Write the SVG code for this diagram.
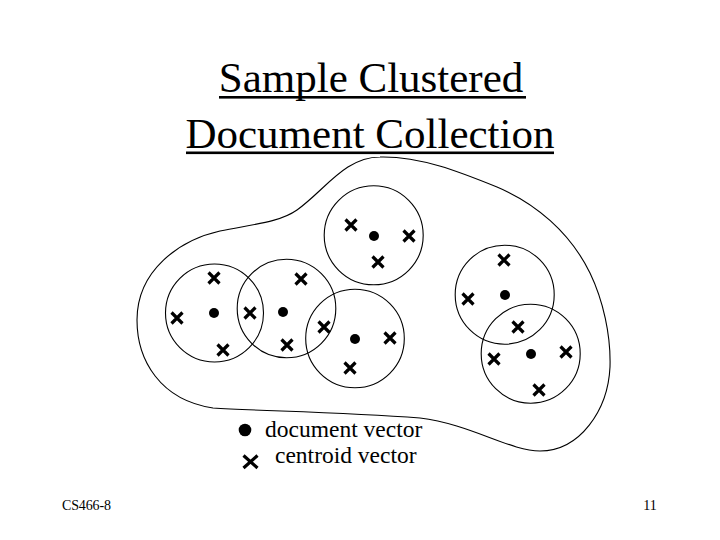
<svg xmlns="http://www.w3.org/2000/svg" xmlns:xlink="http://www.w3.org/1999/xlink" width="720" height="540" viewBox="0 0 720 540">
<style>
.t{font-family:"Liberation Serif","Times New Roman",serif;fill:#000}
.ring{fill:none;stroke:#000;stroke-width:1.1}
.doc{fill:#000}
.cx{stroke:#000;stroke-width:3.2;fill:none;stroke-linecap:butt}
</style>
<defs>
<path id="x" class="cx" d="M-5.5,-5.5L5.5,5.5M5.5,-5.5L-5.5,5.5"/>
</defs>
<rect width="720" height="540" fill="#fff"/>
<g id="title">
<text class="t" x="371" y="92" font-size="43" text-anchor="middle">Sample Clustered</text>
<rect x="219" y="96" width="307" height="2.6" fill="#000"/>
<text class="t" x="370" y="147.5" font-size="43" text-anchor="middle">Document Collection</text>
<rect x="186" y="151.5" width="368" height="2.6" fill="#000"/>
</g>
<g id="collection">
<path class="ring" d="M380,157 C420,156 460,172 497,187 C535,203 570,232 590,273 C603,300 611,335 610,367 C608,410 580,451 540,451 C510,451 470,424 420,418 C340,412 260,411 213,408 C160,400 137,360 137,320 C137,270 180,240 220,231 C255,224 280,222 297,210 C325,190 345,157 380,157 Z"/>
</g>
<g id="cluster1">
<circle class="ring" cx="214.5" cy="313" r="49"/>
<circle class="doc" cx="214" cy="313" r="5"/>
<use xlink:href="#x" x="214" y="278"/>
<use xlink:href="#x" x="177" y="318"/>
<use xlink:href="#x" x="223" y="350"/>
</g>
<g id="cluster2">
<circle class="ring" cx="286.5" cy="308.5" r="49.3"/>
<circle class="doc" cx="283" cy="312" r="5"/>
<use xlink:href="#x" x="301" y="279"/>
<use xlink:href="#x" x="250" y="313"/>
<use xlink:href="#x" x="287" y="345"/>
</g>
<g id="cluster3">
<circle class="ring" cx="355" cy="338.5" r="49.3"/>
<circle class="doc" cx="355" cy="339" r="5"/>
<use xlink:href="#x" x="324" y="327"/>
<use xlink:href="#x" x="390" y="338"/>
<use xlink:href="#x" x="350" y="368"/>
</g>
<g id="cluster4">
<circle class="ring" cx="373.7" cy="235.3" r="49.5"/>
<circle class="doc" cx="374" cy="236" r="5"/>
<use xlink:href="#x" x="351" y="225"/>
<use xlink:href="#x" x="409" y="236"/>
<use xlink:href="#x" x="378" y="262"/>
</g>
<g id="cluster5">
<circle class="ring" cx="504.7" cy="294.7" r="49.5"/>
<circle class="doc" cx="505" cy="295" r="5"/>
<use xlink:href="#x" x="504" y="260"/>
<use xlink:href="#x" x="468" y="299"/>
<use xlink:href="#x" x="518" y="327"/>
</g>
<g id="cluster6">
<circle class="ring" cx="530.7" cy="353.7" r="49.5"/>
<circle class="doc" cx="531" cy="354" r="5"/>
<use xlink:href="#x" x="494" y="359"/>
<use xlink:href="#x" x="566" y="352"/>
<use xlink:href="#x" x="539" y="390"/>
</g>
<g id="legend">
<circle class="doc" cx="245" cy="430" r="6.3"/>
<text class="t" x="265" y="437" font-size="23.5">document vector</text>
<path class="cx" d="M243.5,455.5L257.5,468M257.5,455.5L243.5,468" stroke-width="3"/>
<text class="t" x="275" y="463" font-size="23.5">centroid vector</text>
</g>
<g id="footer">
<text class="t" x="62" y="510" font-size="14" textLength="49">CS466-8</text>
<text class="t" x="650" y="510" font-size="14" text-anchor="middle">11</text>
</g>
</svg>
